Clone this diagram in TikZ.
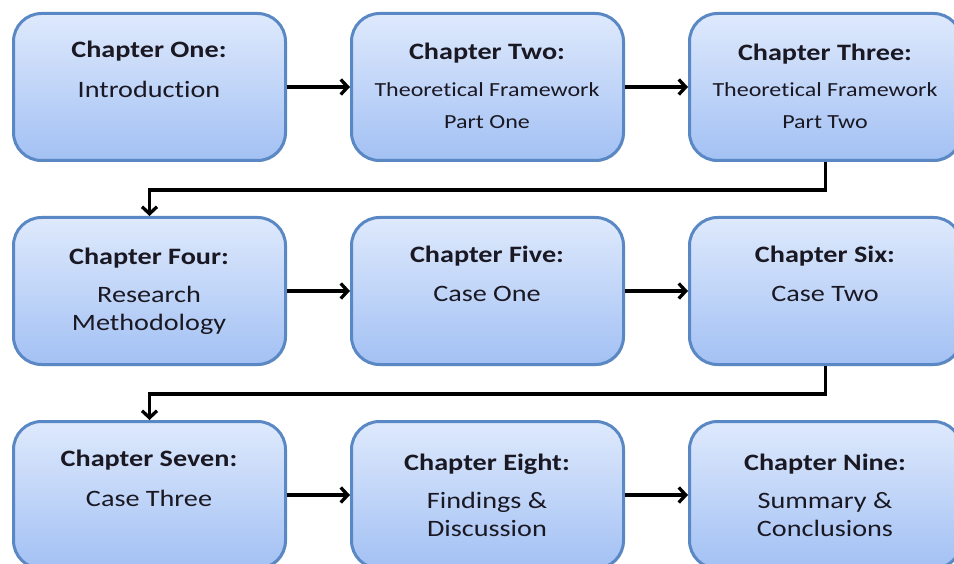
\documentclass[tikz,border=0pt]{standalone}
\usepackage{fontspec}
\setmainfont{Carlito}[FakeStretch=1.2, Ligatures=NoCommon]
\usetikzlibrary{arrows.meta,shadows}
\definecolor{boxtop}{HTML}{DEE9FC}
\definecolor{boxbot}{HTML}{A3C1F4}
\definecolor{boxline}{HTML}{5A88C4}
\definecolor{ink}{HTML}{1A1822}
\begin{document}
\begin{tikzpicture}[x=1pt,y=-1pt,
  chapbox/.style={draw=boxline, line width=3pt, rounded corners=28pt,
    top color=boxtop, bottom color=boxbot,
    drop shadow={shadow xshift=1.2pt, shadow yshift=-1.5pt, opacity=0.3},
    minimum width=272pt, minimum height=147pt, inner sep=0pt},
  chaptitle/.style={font=\fontsize{23.5}{26}\selectfont\bfseries, text=ink, inner sep=0pt},
  chapsub/.style={font=\fontsize{23.5}{28}\selectfont, text=ink, align=center, inner sep=0pt},
  chapsmall/.style={font=\fontsize{20}{32}\selectfont, text=ink, align=center, inner sep=0pt},
  flow/.style={line width=3.3pt, -{Straight Barb[length=7pt,width=15pt]}}
]
\useasboundingbox (0,0) rectangle (954,564);
\clip (0,0) rectangle (954,564);

% chapter boxes
\node[chapbox] (c1) at (149.5,87) {};
\node[chapbox] (c2) at (487.5,87) {};
\node[chapbox] (c3) at (825.5,87) {};
\node[chapbox] (c4) at (149.5,291) {};
\node[chapbox] (c5) at (487.5,291) {};
\node[chapbox] (c6) at (825.5,291) {};
\node[chapbox] (c7) at (149.5,495) {};
\node[chapbox] (c8) at (487.5,495) {};
\node[chapbox] (c9) at (825.5,495) {};

% texts, row one
\node[chaptitle] (t1) at (149,51) {Chapter One:};
\node[chapsub]   (s1) at (149,89) {Introduction};
\node[chaptitle] (t2) at (487,53) {Chapter Two:};
\node[chapsmall, anchor=north] (s2) at (487,82) {Theoretical Framework\\Part One};
\node[chaptitle] (t3) at (825,54) {Chapter Three:};
\node[chapsmall, anchor=north] (s3) at (825,82) {Theoretical Framework\\Part Two};

% texts, row two
\node[chaptitle] (t4) at (149,258) {Chapter Four:};
\node[chapsub, anchor=north] (s4) at (149,286) {Research\\Methodology};
\node[chaptitle] (t5) at (487,256) {Chapter Five:};
\node[chapsub]   (s5) at (487,294) {Case One};
\node[chaptitle] (t6) at (825,256) {Chapter Six:};
\node[chapsub]   (s6) at (825,294) {Case Two};

% texts, row three
\node[chaptitle] (t7) at (149,460) {Chapter Seven:};
\node[chapsub]   (s7) at (149,498) {Case Three};
\node[chaptitle] (t8) at (487,464) {Chapter Eight:};
\node[chapsub, anchor=north] (s8) at (487,492) {Findings \&\\Discussion};
\node[chaptitle] (t9) at (825,464) {Chapter Nine:};
\node[chapsub, anchor=north] (s9) at (825,492) {Summary \&\\Conclusions};

% connectors
\draw[flow] (c1) -- (c2);
\draw[flow] (c2) -- (c3);
\draw[flow] (c4) -- (c5);
\draw[flow] (c5) -- (c6);
\draw[flow] (c7) -- (c8);
\draw[flow] (c8) -- (c9);
\draw[flow] (c3.south) -- ++(0,28) -| (c4.north);
\draw[flow] (c6.south) -- ++(0,28) -| (c7.north);
\end{tikzpicture}
\end{document}
